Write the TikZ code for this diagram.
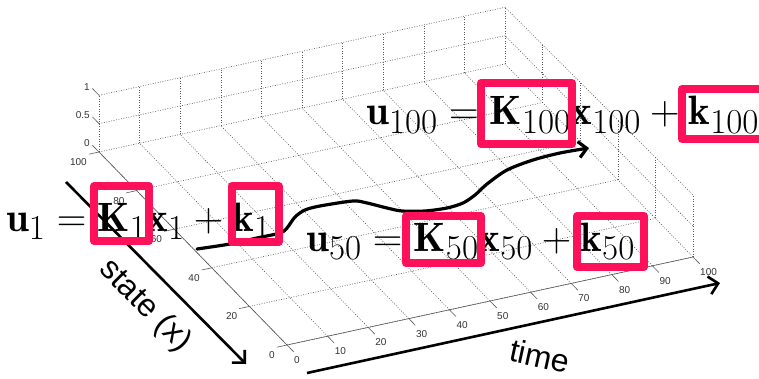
\documentclass[tikz,border=0pt]{standalone}
\usepackage{fix-cm}
\usepackage{fontspec}
\usetikzlibrary{arrows.meta,calc}
\newfontfamily\axisfont{Liberation Sans}
\definecolor{hlpink}{RGB}{255,16,90}
\DeclareMathSizes{41}{41}{35}{28}
\tikzset{
  grid line/.style={black!65, line width=0.6pt, dash pattern=on 0.9pt off 1.6pt},
  axis line/.style={black!65, line width=0.6pt},
  tick label/.style={font=\axisfont\fontsize{10}{12}\selectfont, text=black!80, inner sep=0pt},
  eqn/.style={font=\fontsize{41}{48}\selectfont, anchor=base west, inner sep=0pt},
  hl box/.style={draw=hlpink, line width=8pt, line join=round},
  big label/.style={font=\axisfont\fontsize{32}{38}\selectfont, inner sep=0pt},
  annot arrow/.style={black, line width=2.6pt, -{Straight Barb[length=9pt,width=18pt]}},
}
\begin{document}
\begin{tikzpicture}[x=1pt,y=-1pt]
  \clip (0,0) rectangle (759,379);
  % 3d axes: time, state, z
  \begin{scope}[shift={(287,345)}, x={(4.06pt,0.88pt)}, y={(-1.88pt,1.93pt)}, z={(0pt,56.7pt)}]
    % floor
    \foreach \ti in {0,10,...,100} \draw[grid line] (\ti,0,0) -- (\ti,100,0);
    \foreach \si in {0,20,...,100} \draw[grid line] (0,\si,0) -- (100,\si,0);
    % back wall
    \foreach \ti in {0,10,...,100} \draw[grid line] (\ti,100,0) -- (\ti,100,1);
    \foreach \zi in {0.5,1} \draw[grid line] (0,100,\zi) -- (100,100,\zi);
    % side wall (a bit taller at the front)
    \foreach \si in {0,20,...,100} \draw[grid line] (100,\si,0) -- ++(0pt,{62pt-0.053pt*\si});
    \foreach \zi in {0.5,1}
      \draw[grid line] ($(100,0,0)+(0pt,{62pt*\zi})$) -- ($(100,100,0)+(0pt,{56.7pt*\zi})$);
    % axes and ticks
    \draw[axis line] (0,0,0) -- (100,0,0);
    \draw[axis line] (0,0,0) -- (0,100,0);
    \foreach \ti in {0,10,...,100} {
      \draw[axis line] (\ti,0,0) -- (\ti,-3.5,0);
      \node[tick label, anchor=west] (tt\ti) at ($(\ti,0,0)+(7pt,-15pt)$) {\ti};
    }
    \foreach \si in {0,20,...,100} {
      \draw[axis line] (0,\si,0) -- (-2.5,\si,0);
      \node[tick label, anchor=east] (st\si) at ($(0,\si,0)+(-12pt,-10pt)$) {\si};
    }
    \foreach \zi/\n in {0/lo,0.5/mid,1/hi} {
      \draw[axis line] (0,100,\zi) -- (0,103.5,\zi);
      \node[tick label, anchor=east] (zt\n) at ($(0,100,\zi)+(-9pt,8.5pt)$) {\zi};
    }
  \end{scope}

  % trajectory
  \draw[line width=3.2pt, line cap=round, -{Straight Barb[length=8pt,width=16pt]}]
    plot[smooth, tension=0.5] coordinates {(197,249) (230,244) (257,238) (280,233) (287,228)
      (295,217) (305,210) (320,206) (353,201) (367,203) (387,208) (402,211) (425,211)
      (447,208) (463,203) (475,195) (487,184) (507,170) (533,160) (560,153) (589,148)};

  % axis arrows
  \coordinate (stateS) at (66,182);
  \coordinate (stateE) at (246,364);
  \coordinate (timeS) at (307,373);
  \coordinate (timeE) at (720,283);
  \draw[annot arrow] (stateS) -- (stateE);
  \draw[annot arrow] (timeS) -- (timeE);
  \node[big label, rotate=-45] (statelbl) at (145,306) {state (x)};
  \node[big label, rotate=-12.3] (timelbl) at (540,356) {time};

  % control laws
  \node[eqn] (eqfirst) at (6,231) {$\mathbf{u}_1 = \mathbf{K}_1\mathbf{x}_1 + \mathbf{k}_1$};
  \node[eqn] (eqmid) at (306,251) {$\mathbf{u}_{50} = \mathbf{K}_{50}\mathbf{x}_{50} + \mathbf{k}_{50}$};
  \node[eqn] (eqlast) at (366,125) {$\mathbf{u}_{100} = \mathbf{K}_{100}\mathbf{x}_{100} + \mathbf{k}_{100}$};

  % highlight boxes
  \draw[hl box] (94,186) rectangle (149,241);
  \draw[hl box] (231.5,186) rectangle (278.5,242);
  \draw[hl box] (406,216) rectangle (481,263);
  \draw[hl box] (577,216) rectangle (644,267);
  \draw[hl box] (481,83) rectangle (572,144);
  \draw[hl box] (682,89) rectangle (775,139);
\end{tikzpicture}
\end{document}
